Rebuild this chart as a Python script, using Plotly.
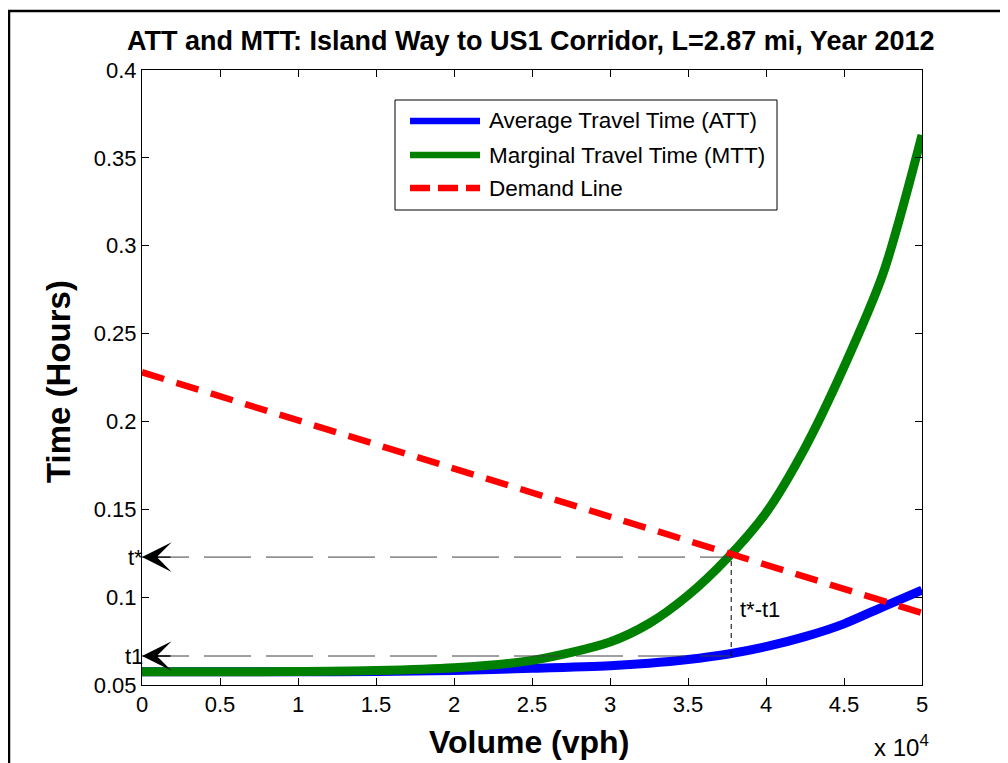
import plotly.graph_objects as go

# ---- data ----
volume = [0, 5000, 10000, 15000, 20000, 25000, 30000, 32500, 35000, 37500, 40000, 42500, 45000, 47500, 50000]
att = [0.0575, 0.0575, 0.0575, 0.0577, 0.0583, 0.0595, 0.0610, 0.0624, 0.0645, 0.0675, 0.0718, 0.0775, 0.0848, 0.0945, 0.1040]
mtt = [0.0575, 0.0575, 0.0577, 0.0582, 0.0598, 0.0640, 0.0745, 0.0850, 0.1010, 0.1220, 0.1480, 0.1850, 0.2310, 0.2840, 0.3630]
demand_volume = [0, 50000]
demand = [0.228, 0.091]

t_star = 0.1228
t_one = 0.0665
v_star = 37770

x_tickvals = [0, 5000, 10000, 15000, 20000, 25000, 30000, 35000, 40000, 45000, 50000]
x_ticktext = ["0", "0.5", "1", "1.5", "2", "2.5", "3", "3.5", "4", "4.5", "5"]
y_tickvals = [0.05, 0.1, 0.15, 0.2, 0.25, 0.3, 0.35, 0.4]
y_ticktext = ["0.05", "0.1", "0.15", "0.2", "0.25", "0.3", "0.35", "0.4"]

names = ["Average Travel Time (ATT)", "Marginal Travel Time (MTT)", "Demand Line"]
title = "ATT and MTT: Island Way to US1 Corridor, L=2.87 mi, Year 2012"

# ---- layout geometry (page body has an 8px margin) ----
OFF = 8
W, H = 1000, 755
L, R, T, B = 134, 86, 62, 78
PW, PH = W - L - R, H - T - B
FONT = "Liberation Sans, Arial, sans-serif"


def px(xp):
    # window pixel -> paper x
    return (xp - OFF - L) / PW


def py(yp):
    # window pixel -> paper y
    return (H - B - (yp - OFF)) / PH


fig = go.Figure()
fig.add_trace(go.Scatter(x=volume, y=att, mode="lines", name=names[0],
                         line=dict(color="#0000ff", width=9, shape="spline", smoothing=0.8),
                         showlegend=False))
fig.add_trace(go.Scatter(x=volume, y=mtt, mode="lines", name=names[1],
                         line=dict(color="#008000", width=9, shape="spline", smoothing=0.8),
                         showlegend=False))
fig.add_trace(go.Scatter(x=demand_volume, y=demand, mode="lines", name=names[2],
                         line=dict(color="#ff0000", width=6.5, dash="23px,13px"),
                         showlegend=False))

shapes = []
# guide lines
shapes.append(dict(type="line", xref="x", yref="y", x0=0, x1=v_star, y0=t_star, y1=t_star,
                   line=dict(color="#404040", width=1, dash="47px,15px")))
shapes.append(dict(type="line", xref="x", yref="y", x0=0, x1=v_star, y0=t_one, y1=t_one,
                   line=dict(color="#404040", width=1, dash="47px,15px")))
shapes.append(dict(type="line", xref="x", yref="y", x0=v_star, x1=v_star, y0=t_one, y1=t_star,
                   line=dict(color="black", width=1, dash="5px,4px")))

# figure border (left and top visible)
shapes.append(dict(type="rect", xref="paper", yref="paper",
                   x0=px(9), x1=px(1040), y0=py(800), y1=py(11),
                   line=dict(color="black", width=2.5), fillcolor="rgba(0,0,0,0)", layer="above"))

# legend box
shapes.append(dict(type="rect", xref="paper", yref="paper",
                   x0=px(395), x1=px(777), y0=py(210), y1=py(100),
                   line=dict(color="black", width=1), fillcolor="white", layer="above"))
leg_rows = [121, 155, 188]
leg_styles = [dict(color="#0000ff", width=6.5), dict(color="#008000", width=6.5),
              dict(color="#ff0000", width=6.5, dash="20px,8px")]
annotations = []
for yrow, st, nm in zip(leg_rows, leg_styles, names):
    shapes.append(dict(type="line", xref="paper", yref="paper",
                       x0=px(410), x1=px(480), y0=py(yrow), y1=py(yrow), line=st, layer="above"))
    annotations.append(dict(xref="paper", yref="paper", x=px(487), y=py(yrow), text=nm,
                            showarrow=False, xanchor="left", yanchor="middle",
                            font=dict(family=FONT, size=22.5, color="black")))

# arrows and labels
for yv, lab in [(t_star, "t*"), (t_one, "t1")]:
    annotations.append(dict(xref="x", yref="y", x=0, y=yv, ax=30, ay=0, text="",
                            showarrow=True, arrowhead=3, arrowsize=3.8, arrowwidth=1.3,
                            arrowcolor="black"))
    annotations.append(dict(xref="x", yref="y", x=0, y=yv, text=lab, showarrow=False,
                            xanchor="right", yanchor="middle", xshift=3,
                            font=dict(family=FONT, size=22, color="black")))
annotations.append(dict(xref="x", yref="y", x=v_star, y=0.0927, text="t*-t1", showarrow=False,
                        xanchor="left", yanchor="middle", xshift=7,
                        font=dict(family=FONT, size=22, color="black")))

# axis titles and exponent
annotations.append(dict(xref="paper", yref="paper", x=px(529), y=py(742), text="<b>Volume (vph)</b>",
                        showarrow=False, xanchor="center", yanchor="middle",
                        font=dict(family=FONT, size=32, color="black")))
annotations.append(dict(xref="paper", yref="paper", x=px(58), y=py(382), text="<b>Time (Hours)</b>",
                        showarrow=False, xanchor="center", yanchor="middle", textangle=-90,
                        font=dict(family=FONT, size=33, color="black")))
annotations.append(dict(xref="paper", yref="paper", x=px(931), y=py(746), text="x 10<sup>4</sup>",
                        showarrow=False, xanchor="right", yanchor="middle",
                        font=dict(family=FONT, size=24, color="black")))
annotations.append(dict(xref="paper", yref="paper", x=px(530), y=py(41), text="<b>" + title + "</b>",
                        showarrow=False, xanchor="center", yanchor="middle",
                        font=dict(family=FONT, size=27, color="black")))

axis_common = dict(showline=True, linecolor="black", linewidth=1, mirror="ticks",
                   ticks="inside", ticklen=7, tickcolor="black", tickwidth=1,
                   showgrid=False, zeroline=False,
                   tickfont=dict(family=FONT, size=22, color="black"))

fig.update_layout(
    width=W, height=H,
    margin=dict(l=L, r=R, t=T, b=B),
    paper_bgcolor="white", plot_bgcolor="white",
    xaxis=dict(range=[0, 50000], tickvals=x_tickvals, ticktext=x_ticktext,
               ticklabelstandoff=0, **axis_common),
    yaxis=dict(range=[0.05, 0.4], tickvals=y_tickvals, ticktext=y_ticktext,
               ticklabelstandoff=0, **axis_common),
    shapes=shapes, annotations=annotations,
    showlegend=False,
)

fig.write_html("out.html")
